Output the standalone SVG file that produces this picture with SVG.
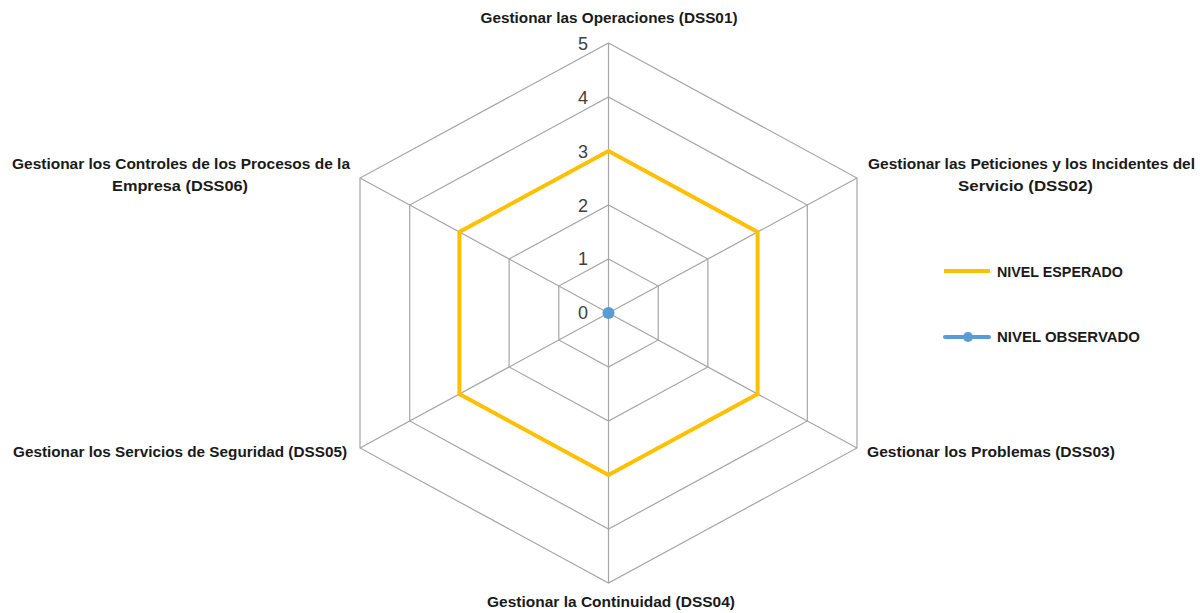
<svg xmlns="http://www.w3.org/2000/svg" width="1200" height="613" viewBox="0 0 1200 613">
  <style>
    .grid { fill: none; stroke: #a6a6a6; stroke-width: 1.2; }
    .spoke { stroke: #a6a6a6; stroke-width: 1.2; }
    .tick { font-family: "Liberation Sans", Arial, sans-serif; font-size: 18px; fill: #404040; text-anchor: end; }
    .cat { font-family: "Liberation Sans", Arial, sans-serif; font-size: 15px; font-weight: bold; fill: #1a1a1a; }
    .mid { text-anchor: middle; }
    .esperado { fill: none; stroke: #ffc000; stroke-width: 4; stroke-linejoin: miter; }
    .observado { stroke: #5b9bd5; stroke-width: 4; stroke-linecap: round; }
    .dot { fill: #5b9bd5; }
  </style>
  <rect width="1200" height="613" fill="#ffffff"/>

  <!-- radar grid: concentric hexagons, levels 1..5 around centre (608.5, 313) -->
  <g id="grid">
    <polygon class="grid" points="608.5,259 658.2,286 658.2,340 608.5,367 558.8,340 558.8,286"/>
    <polygon class="grid" points="608.5,205 707.9,259 707.9,367 608.5,421 509.1,367 509.1,259"/>
    <polygon class="grid" points="608.5,151 757.6,232 757.6,394 608.5,475 459.4,394 459.4,232"/>
    <polygon class="grid" points="608.5,97 807.3,205 807.3,421 608.5,529 409.7,421 409.7,205"/>
    <polygon class="grid" points="608.5,43 857,178 857,448 608.5,583 360,448 360,178"/>
  </g>

  <!-- category axes -->
  <g id="connectors">
    <line class="spoke" x1="608.5" y1="313" x2="608.5" y2="43"/>
    <line class="spoke" x1="608.5" y1="313" x2="857" y2="178"/>
    <line class="spoke" x1="608.5" y1="313" x2="857" y2="448"/>
    <line class="spoke" x1="608.5" y1="313" x2="608.5" y2="583"/>
    <line class="spoke" x1="608.5" y1="313" x2="360" y2="448"/>
    <line class="spoke" x1="608.5" y1="313" x2="360" y2="178"/>
  </g>

  <!-- value axis labels -->
  <g id="value-axis">
    <text class="tick" x="588" y="50">5</text>
    <text class="tick" x="588" y="104">4</text>
    <text class="tick" x="588" y="158">3</text>
    <text class="tick" x="588" y="212">2</text>
    <text class="tick" x="588" y="265">1</text>
    <text class="tick" x="588" y="319">0</text>
  </g>

  <!-- series -->
  <g id="series-esperado">
    <polygon class="esperado" points="608.5,151 757.6,232 757.6,394 608.5,475 459.4,394 459.4,232"/>
  </g>
  <g id="series-observado">
    <circle class="dot" cx="608.5" cy="313" r="6"/>
  </g>

  <!-- category labels -->
  <g id="dss01">
    <text class="cat mid" x="609" y="23" textLength="257" lengthAdjust="spacingAndGlyphs">Gestionar las Operaciones (DSS01)</text>
  </g>
  <g id="dss02">
    <text class="cat mid" x="1031.5" y="169" textLength="327" lengthAdjust="spacingAndGlyphs">Gestionar las Peticiones y los Incidentes del</text>
    <text class="cat mid" x="1025.5" y="191" textLength="135" lengthAdjust="spacingAndGlyphs">Servicio (DSS02)</text>
  </g>
  <g id="dss03">
    <text class="cat" x="867" y="457" textLength="248" lengthAdjust="spacingAndGlyphs">Gestionar los Problemas (DSS03)</text>
  </g>
  <g id="dss04">
    <text class="cat mid" x="611" y="607" textLength="248" lengthAdjust="spacingAndGlyphs">Gestionar la Continuidad (DSS04)</text>
  </g>
  <g id="dss05">
    <text class="cat" x="13" y="457" textLength="334" lengthAdjust="spacingAndGlyphs">Gestionar los Servicios de Seguridad (DSS05)</text>
  </g>
  <g id="dss06">
    <text class="cat mid" x="181" y="169" textLength="338" lengthAdjust="spacingAndGlyphs">Gestionar los Controles de los Procesos de la</text>
    <text class="cat mid" x="180" y="191" textLength="136" lengthAdjust="spacingAndGlyphs">Empresa (DSS06)</text>
  </g>

  <!-- legend -->
  <g id="legend">
    <line x1="944" y1="271" x2="990" y2="271" stroke="#ffc000" stroke-width="4"/>
    <text class="cat" x="997" y="277" textLength="126" lengthAdjust="spacingAndGlyphs">NIVEL ESPERADO</text>
    <line class="observado" x1="945" y1="337" x2="989" y2="337"/>
    <circle class="dot" cx="968" cy="337" r="5"/>
    <text class="cat" x="997" y="342" textLength="143" lengthAdjust="spacingAndGlyphs">NIVEL OBSERVADO</text>
  </g>
</svg>
